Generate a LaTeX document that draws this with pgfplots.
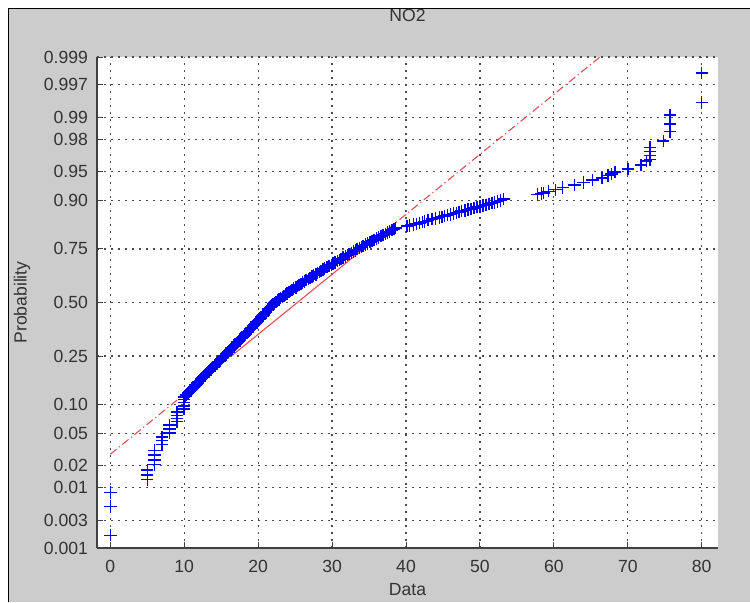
\documentclass[border=0pt]{standalone}
\usepackage{fontspec}
\setmainfont{Liberation Sans}
\usepackage{pgfplots}
\pgfplotsset{compat=1.18}

\definecolor{figgray}{RGB}{204,204,204}
\definecolor{matblue}{RGB}{0,0,255}
\definecolor{matred}{RGB}{225,80,80}

\begin{document}
\begin{tikzpicture}[font=\fontsize{8.8}{10.5}\selectfont]
% window frame
\useasboundingbox (-48.5pt,-27pt) rectangle (326.5pt,274pt);
\fill[white] (-48.5pt,-27pt) rectangle (326.5pt,274pt);
\fill[figgray] (-44.25pt,-27pt) rectangle (326.5pt,269.75pt);
\draw[black,line width=0.9pt] (-44.25pt,-27pt) -- (-44.25pt,269.75pt) -- (326.5pt,269.75pt);

\begin{axis}[
  scale only axis, width=310.5pt, height=245.5pt,
  xmin=-1.8, xmax=82.2, ymin=-3.0902, ymax=3.0902,
  axis x line*=bottom, axis y line*=left,
  axis line style={black!75, line width=0.8pt, -},
  axis background/.style={fill=white},
  xtick={0,10,...,80}, xticklabels={0,10,20,30,40,50,60,70,80},
  ytick={-3.0902,-2.7478,-2.3263,-2.0537,-1.6449,-1.2816,-0.6745,0,0.6745,1.2816,1.6449,2.0537,2.3263,2.7478,3.0902},
  yticklabels={0.001,0.003,0.01,0.02,0.05,0.10,0.25,0.50,0.75,0.90,0.95,0.98,0.99,0.997,0.999},
  tick align=inside, major tick length=3pt, tick style={black!75, line width=0.5pt},
  grid=major, major grid style={black!70, line width=0.6pt, dash pattern=on 1.2pt off 2.3pt},
  ticklabel style={black!80},
  xticklabel style={yshift=-2.5pt},
  yticklabel style={xshift=-1pt},
  title={NO2}, xlabel={Data}, ylabel={Probability},
  title style={at={(axis description cs:0.5,1.061)},anchor=center,black!80},
  xlabel style={at={(axis description cs:0.5,-0.0855)},anchor=center,black!80},
  ylabel style={at={(axis description cs:-0.1208,0.5)},anchor=center,black!80},
]
% fitted reference line (quartiles solid, extrapolation dash-dot)
\addplot[matred, line width=0.55pt, dash pattern=on 4pt off 1.6pt on 0.6pt off 1.6pt] coordinates {(0,-1.91) (16.4,-0.672)};
\addplot[matred, line width=0.55pt] coordinates {(16.4,-0.672) (34.2,0.672)};
\addplot[matred, line width=0.55pt, dash pattern=on 4pt off 1.6pt on 0.6pt off 1.6pt] coordinates {(34.2,0.672) (66.2,3.088)};

% sample (normal scores)
\addplot[only marks, mark=+, mark size=3.1pt, matblue, mark options={line width=0.75pt}] coordinates {
(0,-2.93)(0,-2.57)(0,-2.39)
(5,-2.23)(5,-2.17)(5,-2.11)
(6,-2.04)(6,-1.98)(6,-1.92)(6,-1.86)
(7,-1.79)(7,-1.74)(7,-1.69)
(8,-1.64)(8,-1.59)(8,-1.54)
(9,-1.50)(9,-1.46)(9,-1.42)(9,-1.38)
(10,-1.34)(10,-1.30)(10,-1.26)(10,-1.22)(10,-1.19)
(10.2,-1.175)(10.3,-1.16)(10.5,-1.145)(10.6,-1.13)(10.8,-1.115)(10.9,-1.10)
(11.1,-1.085)(11.2,-1.07)(11.4,-1.055)(11.5,-1.04)(11.7,-1.025)(11.8,-1.01)
(12.0,-0.995)(12.1,-0.98)(12.3,-0.965)(12.4,-0.95)(12.6,-0.935)(12.8,-0.92)
(12.9,-0.905)(13.1,-0.89)(13.2,-0.875)(13.4,-0.86)(13.6,-0.845)(13.7,-0.83)
(13.9,-0.815)(14.1,-0.80)(14.2,-0.785)(14.4,-0.77)(14.5,-0.755)(14.7,-0.74)
(14.9,-0.725)(15.0,-0.71)(15.2,-0.695)(15.3,-0.68)
(15.5,-0.665)(15.7,-0.65)(15.8,-0.635)(16.0,-0.62)(16.1,-0.605)(16.3,-0.59)
(16.4,-0.575)(16.6,-0.56)(16.8,-0.545)(16.9,-0.53)(17.1,-0.515)(17.2,-0.50)
(17.4,-0.485)(17.5,-0.47)(17.7,-0.455)(17.8,-0.44)(18.0,-0.425)(18.2,-0.41)
(18.3,-0.395)(18.5,-0.38)(18.6,-0.365)(18.8,-0.35)(18.9,-0.335)(19.1,-0.32)
(19.3,-0.305)
(19.4,-0.29)(19.5,-0.275)(19.7,-0.26)(19.8,-0.245)(20.0,-0.23)(20.1,-0.215)
(20.3,-0.20)(20.4,-0.185)(20.6,-0.17)(20.7,-0.155)(20.9,-0.14)(21.0,-0.125)
(21.1,-0.11)(21.3,-0.095)(21.4,-0.08)(21.6,-0.065)(21.7,-0.05)(21.9,-0.035)
(22.0,-0.02)(22.2,-0.005)
(22.4,0.01)(22.6,0.025)(22.8,0.04)(23.0,0.055)(23.3,0.07)(23.5,0.085)
(23.7,0.10)(23.9,0.115)(24.2,0.13)(24.4,0.145)(24.6,0.16)(24.8,0.175)(25.1,0.19)
(25.3,0.205)(25.5,0.22)(25.8,0.235)(26.0,0.25)(26.3,0.265)(26.5,0.28)
(26.8,0.295)(27.0,0.31)(27.3,0.325)(27.5,0.34)(27.8,0.355)(28.0,0.37)(28.3,0.385)
(28.5,0.40)(28.8,0.415)(29.0,0.43)(29.3,0.445)(29.6,0.46)(29.9,0.475)
(30.1,0.49)(30.4,0.505)(30.7,0.52)(31.0,0.535)(31.2,0.55)(31.5,0.565)
(31.8,0.58)(32.1,0.595)(32.3,0.61)(32.6,0.625)(32.9,0.64)(33.2,0.655)
(33.4,0.67)(33.7,0.685)(34.0,0.70)(34.2,0.715)(34.5,0.73)
(34.8,0.745)(35.1,0.76)(35.4,0.775)(35.7,0.79)(36.0,0.805)(36.3,0.82)
(36.6,0.835)(36.9,0.85)(37.2,0.865)(37.5,0.88)(37.8,0.895)(38.1,0.91)
(38.4,0.925)(38.6,0.935)
(40.1,0.96)(40.5,0.97)(41.0,0.98)(41.4,0.99)(41.8,1.00)(42.2,1.01)
(42.5,1.02)(43.0,1.035)(43.5,1.05)(44.0,1.06)(44.5,1.07)(44.9,1.08)
(45.2,1.09)(45.6,1.10)(46.0,1.11)(46.4,1.12)(46.8,1.13)(47.2,1.14)
(47.5,1.15)(48.0,1.16)(48.4,1.17)(48.8,1.18)(49.2,1.19)(49.6,1.20)
(50.0,1.21)(50.4,1.22)(50.8,1.23)(51.2,1.24)(51.6,1.25)(52.0,1.26)
(52.4,1.27)(52.8,1.285)(53.2,1.30)
(57.8,1.36)(58.3,1.37)(58.6,1.38)(59.3,1.40)(60.2,1.42)(61.2,1.45)
(62.8,1.48)(64.0,1.51)(65.2,1.54)(66.5,1.57)(67.3,1.60)(67.8,1.62)
(68.3,1.64)(70.0,1.68)(71.8,1.73)(72.5,1.78)
(73,1.80)(73,1.85)(73,1.90)(73,1.95)
(74.8,2.03)(75.7,2.15)(75.7,2.25)(75.7,2.36)
(80,2.52)(80,2.89)
};
\end{axis}
\end{tikzpicture}
\end{document}
